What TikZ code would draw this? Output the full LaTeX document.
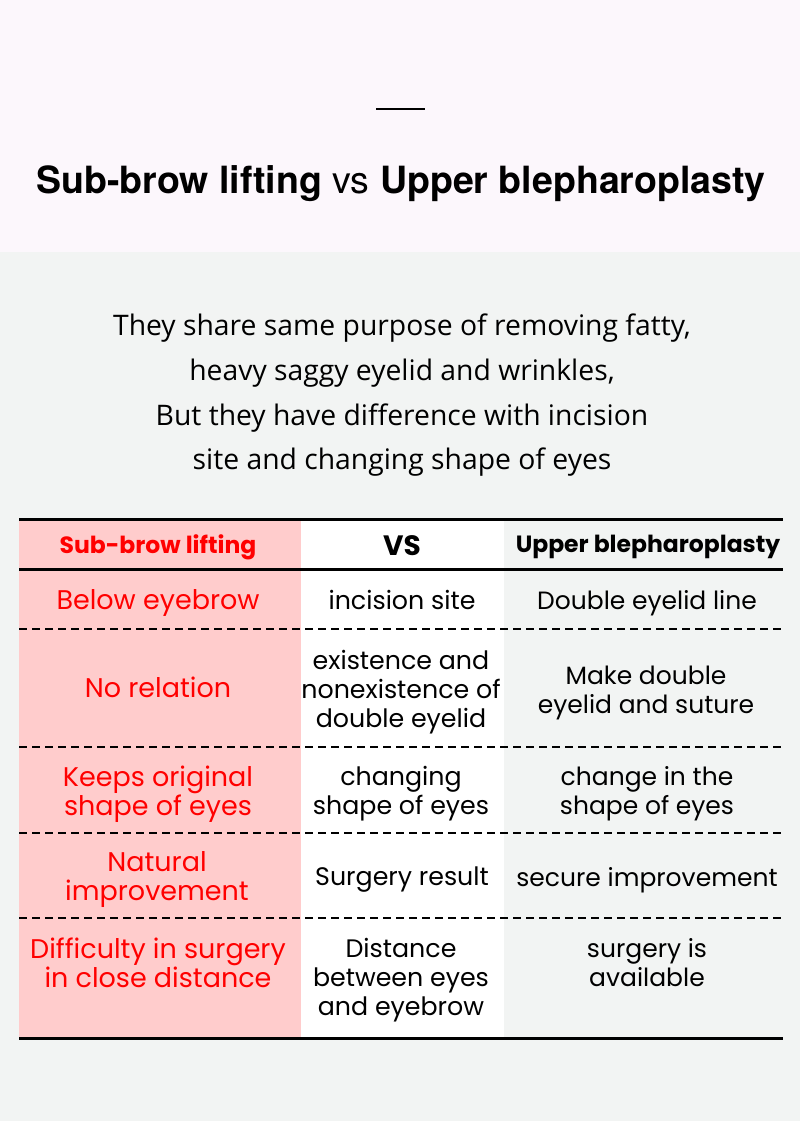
\documentclass[tikz,border=0pt]{standalone}
\usepackage{fontspec}
\newfontfamily\titlefont{TeX Gyre Heros}
\newfontfamily\parafont{Open Sans}
\newfontfamily\cellfont{Poppins}
\definecolor{bandpink}{HTML}{FCF7FC}
\definecolor{pagegray}{HTML}{F2F4F3}
\definecolor{cellpink}{HTML}{FFCCCC}
\definecolor{cellred}{HTML}{FF0000}
\tikzset{
  cell/.style={align=center, inner sep=0pt, font=\cellfont\fontsize{25}{29}\selectfont},
  midcell/.style={cell, font=\cellfont\fontsize{25.3}{29}\selectfont},
  redcell/.style={cell, text=cellred, font=\cellfont\fontsize{27}{29}\selectfont},
  headcell/.style={cell, font=\cellfont\bfseries\fontsize{23.5}{26}\selectfont},
  tablerule/.style={line width=3pt},
  rowline/.style={line width=1.3pt, dash pattern=on 8pt off 5pt}
}

\begin{document}
\begin{tikzpicture}[x=1pt,y=-1pt]
% background
\fill[pagegray] (0,0) rectangle (800,1121);
\fill[bandpink] (0,0) rectangle (800,252);
\draw[line width=1.5pt] (376,109) -- (425,109);
\node[anchor=base, inner sep=0pt, font=\titlefont\fontsize{37.5}{44}\selectfont] (title) at (401,193)
  {\bfseries Sub-brow lifting \mdseries vs \bfseries Upper blepharoplasty};

% intro text
\foreach \line [count=\i] in {{They share same purpose of removing fatty,},{heavy saggy eyelid and wrinkles,},{But they have difference with incision},{site and changing shape of eyes}} {
  \node[anchor=base, inner sep=0pt, font=\parafont\fontsize{28.3}{34}\selectfont] (intro\i) at (402,291+44.7*\i) {\line};
}

% table
\fill[cellpink] (19,519) rectangle (301,1038);
\fill[white] (301,519) rectangle (504,1038);
\draw[tablerule] (19,519) -- (783,519);
\draw[tablerule] (19,569) -- (783,569);
\draw[tablerule] (19,1038) -- (783,1038);
\foreach \y in {629,747,833,918} {
  \draw[rowline] (19,\y) -- (783,\y);
}

\node[headcell, text=cellred] (headleft) at (158,547) {Sub-brow lifting};
\node[headcell, font=\cellfont\bfseries\fontsize{28}{32}\selectfont] (headmid) at (402,546) {VS};
\node[headcell] (headright) at (648,547) {Upper blepharoplasty};

\node[redcell] (leftA) at (158,603) {Below eyebrow};
\node[midcell] (midA) at (402,600) {incision site};
\node[cell] (rightA) at (647,603) {Double eyelid line};

\node[redcell] (leftB) at (158,687) {No relation};
\node[midcell] (midB) at (401,692) {existence and\\nonexistence of\\double eyelid};
\node[cell] (rightB) at (646,693) {Make double\\eyelid and suture};

\node[redcell] (leftC) at (158,794) {Keeps original\\shape of eyes};
\node[midcell] (midC) at (401,794) {changing\\shape of eyes};
\node[cell] (rightC) at (647,794) {change in the\\shape of eyes};

\node[redcell] (leftD) at (157,880) {Natural\\improvement};
\node[midcell] (midD) at (402,880) {Surgery result};
\node[cell] (rightD) at (647,880) {secure improvement};

\node[redcell] (leftE) at (158,963) {Difficulty in surgery\\in close distance};
\node[midcell] (midE) at (401,980) {Distance\\between eyes\\and eyebrow};
\node[cell] (rightE) at (647,963) {surgery is\\available};
\end{tikzpicture}
\end{document}
